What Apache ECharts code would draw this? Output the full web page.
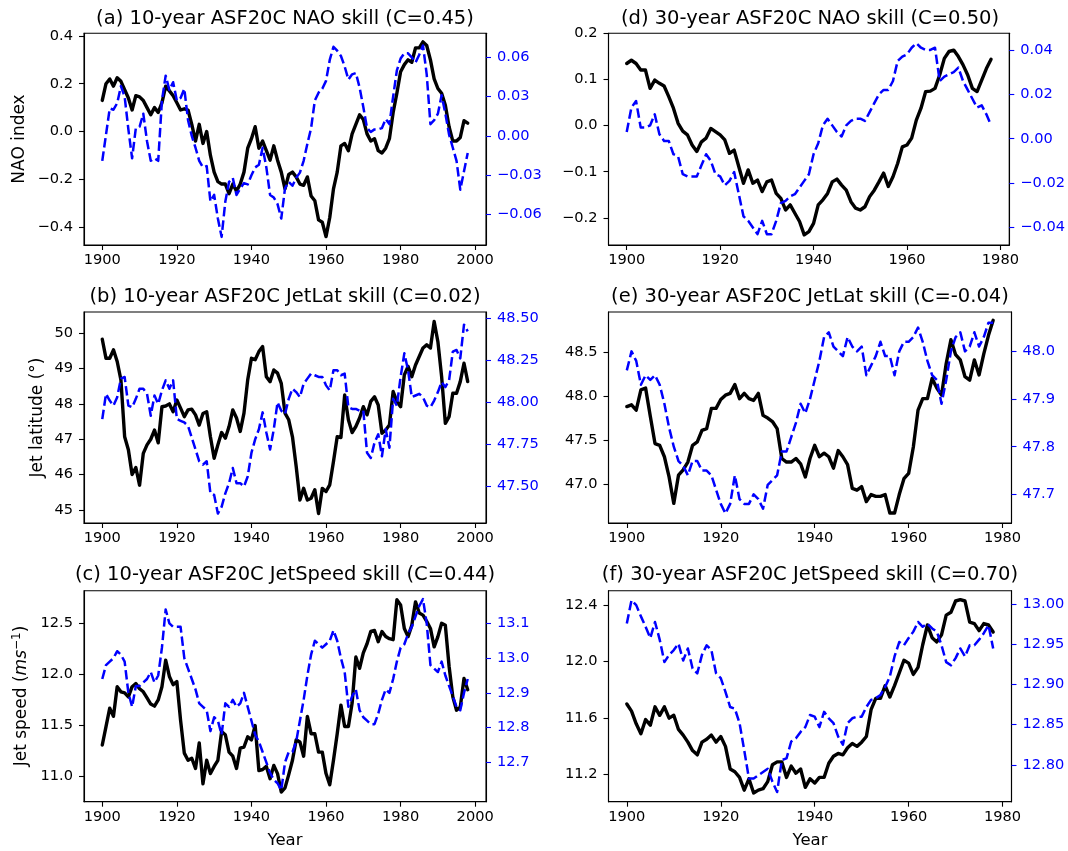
<!DOCTYPE html>
<html><head><meta charset="utf-8">
<script src="https://cdn.jsdelivr.net/npm/echarts@6/dist/echarts.min.js"></script>
<style>html,body{margin:0;padding:0;background:#fff}#c{width:1068px;height:851px}</style>
</head><body><div id="c"></div><script>
// ---------------- data ----------------
const YEARS_10 = Array.from({length: 99}, (_, i) => 1900 + i);   // 1900..1998
const YEARS_30 = Array.from({length: 79}, (_, i) => 1900 + i);   // 1900..1978
const X_TICKS_10 = [1900, 1920, 1940, 1960, 1980, 2000];
const X_TICKS_30 = [1900, 1920, 1940, 1960, 1980];

const TITLES = [
  '(a) 10-year ASF20C NAO skill (C=0.45)',
  '(b) 10-year ASF20C JetLat skill (C=0.02)',
  '(c) 10-year ASF20C JetSpeed skill (C=0.44)',
  '(d) 30-year ASF20C NAO skill (C=0.50)',
  '(e) 30-year ASF20C JetLat skill (C=-0.04)',
  '(f) 30-year ASF20C JetSpeed skill (C=0.70)'
];

// (a) 10-year NAO
const nao10Black = [
  0.13,0.20,0.22,0.19,0.225,0.21,0.175,0.14,0.09,0.15,
  0.145,0.13,0.10,0.07,0.10,0.08,0.12,0.19,0.17,0.15,
  0.12,0.09,0.095,0.09,0.03,-0.04,0.03,-0.05,0.00,-0.10,
  -0.17,-0.21,-0.22,-0.22,-0.26,-0.22,-0.25,-0.22,-0.17,-0.07,
  -0.03,0.02,-0.07,-0.04,-0.08,-0.12,-0.06,-0.12,-0.17,-0.24,
  -0.18,-0.17,-0.19,-0.22,-0.225,-0.19,-0.27,-0.29,-0.37,-0.38,
  -0.44,-0.36,-0.24,-0.17,-0.06,-0.05,-0.08,-0.01,0.03,0.07,
  0.05,-0.01,-0.04,-0.03,-0.08,-0.09,-0.07,-0.03,0.08,0.16,
  0.25,0.28,0.30,0.29,0.35,0.35,0.375,0.36,0.30,0.22,
  0.18,0.16,0.11,0.02,-0.04,-0.04,-0.025,0.045,0.035
];
const nao10Blue = [
  -0.019,0.001,0.021,0.020,0.025,0.038,0.030,0.005,-0.017,0.006,
  0.007,0.017,-0.004,-0.019,-0.017,-0.019,0.027,0.046,0.035,0.041,
  0.027,0.029,0.036,0.012,0.000,-0.009,-0.019,-0.024,-0.023,-0.050,
  -0.045,-0.063,-0.077,-0.050,-0.035,-0.032,-0.045,-0.040,-0.036,-0.037,
  -0.030,-0.024,-0.022,-0.009,-0.024,-0.045,-0.047,-0.052,-0.063,-0.040,
  -0.035,-0.038,-0.032,-0.028,-0.019,-0.006,0.006,0.027,0.033,0.036,
  0.042,0.058,0.068,0.065,0.061,0.053,0.043,0.047,0.048,0.037,
  0.022,0.006,0.003,0.005,0.005,0.006,0.013,0.009,0.030,0.050,
  0.059,0.063,0.063,0.060,0.056,0.062,0.069,0.047,0.009,0.012,
  0.017,0.031,0.017,0.001,-0.009,-0.019,-0.041,-0.027,-0.013
];
const NAO10_LEFT_TICKS = [-0.4, -0.2, 0.0, 0.2, 0.4];
const NAO10_RIGHT_TICKS = [-0.06, -0.03, 0.0, 0.03, 0.06];

// (b) 10-year JetLat
const lat10Black = [
  49.83,49.29,49.29,49.53,49.2,48.68,47.07,46.7,46.0,46.2,
  45.7,46.6,46.84,47.0,47.26,46.9,47.92,47.94,48.0,47.78,
  48.11,47.88,47.64,47.83,47.85,47.69,47.4,47.73,47.78,47.07,
  46.46,46.84,47.19,47.03,47.36,47.83,47.6,47.22,47.74,48.68,
  49.29,49.25,49.48,49.62,48.77,48.63,48.96,48.87,48.58,47.74,
  47.55,47.07,46.23,45.28,45.61,45.28,45.33,45.57,44.9,45.61,
  45.52,45.71,46.37,47.07,47.05,48.25,47.55,47.19,47.36,47.6,
  47.92,47.69,48.07,48.2,47.97,47.17,47.26,47.4,48.35,48.07,
  47.92,48.82,49.06,48.77,49.1,49.34,49.58,49.67,49.58,50.33,
  49.76,48.77,47.45,47.64,48.3,48.3,48.63,49.15,48.63
];
const lat10Blue = [
  47.9,48.05,48.01,47.98,48.03,48.14,48.15,47.98,47.97,48.02,
  48.08,48.08,48.05,47.92,48.04,47.99,48.07,48.13,48.08,48.13,
  47.9,47.89,47.88,47.86,47.79,47.72,47.65,47.63,47.65,47.46,
  47.45,47.34,47.38,47.46,47.52,47.61,47.52,47.52,47.5,47.56,
  47.7,47.78,47.84,47.94,47.82,47.72,47.84,48.0,47.95,47.93,
  48.02,48.08,48.06,48.03,48.11,48.14,48.17,48.16,48.15,48.15,
  48.1,48.07,48.19,48.19,48.16,48.17,47.97,47.96,47.96,47.95,
  47.95,47.7,47.67,47.76,47.81,47.68,47.84,47.73,48.02,47.98,
  48.15,48.29,48.19,48.03,48.04,48.05,48.03,47.98,47.97,48.01,
  48.06,48.12,48.09,48.13,48.3,48.31,48.26,48.46,48.42
];
const LAT10_LEFT_TICKS = [45, 46, 47, 48, 49, 50];
const LAT10_RIGHT_TICKS = [47.5, 47.75, 48.0, 48.25, 48.5];

// (c) 10-year JetSpeed
const spd10Black = [
  11.31,11.49,11.67,11.59,11.88,11.83,11.82,11.78,11.88,11.91,
  11.86,11.83,11.77,11.71,11.69,11.75,11.88,12.14,11.98,11.9,
  11.93,11.55,11.23,11.16,11.18,11.08,11.33,10.93,11.16,11.03,
  11.1,11.16,11.44,11.41,11.24,11.2,11.08,11.28,11.29,11.39,
  11.36,11.5,11.06,11.07,11.1,10.98,11.11,11.03,10.85,10.89,
  11.02,11.16,11.36,11.34,11.2,11.59,11.42,11.42,11.24,11.24,
  11.03,10.92,11.16,11.42,11.7,11.49,11.49,11.72,12.17,12.06,
  12.21,12.3,12.42,12.43,12.32,12.42,12.37,12.35,12.34,12.73,
  12.68,12.45,12.37,12.48,12.71,12.6,12.58,12.52,12.45,12.27,
  12.37,12.5,12.48,12.08,11.78,11.65,11.68,11.96,11.85
];
const spd10Blue = [
  12.94,12.98,12.99,13.0,13.02,13.01,12.99,12.9,12.86,12.92,
  12.92,12.93,12.94,12.96,12.93,12.95,13.03,13.14,13.1,13.09,
  13.09,13.09,13.0,12.97,12.94,12.91,12.87,12.86,12.85,12.79,
  12.83,12.82,12.78,12.87,12.86,12.88,12.86,12.87,12.9,12.86,
  12.82,12.78,12.76,12.73,12.7,12.67,12.65,12.64,12.62,12.7,
  12.73,12.73,12.76,12.82,12.88,12.95,13.01,13.05,13.04,13.03,
  13.04,13.05,13.08,13.05,13.0,12.96,12.86,12.89,12.91,12.85,
  12.83,12.82,12.81,12.81,12.84,12.88,12.91,12.9,12.94,12.99,
  13.03,13.04,13.07,13.09,13.12,13.15,13.17,13.1,12.98,12.97,
  12.96,12.99,12.95,12.92,12.89,12.86,12.85,12.9,12.94
];
const SPD10_LEFT_TICKS = [11.0, 11.5, 12.0, 12.5];
const SPD10_RIGHT_TICKS = [12.7, 12.8, 12.9, 13.0, 13.1];

// (d) 30-year NAO
const nao30Black = [
  0.135,0.142,0.135,0.121,0.121,0.081,0.099,0.092,0.086,0.063,
  0.038,0.005,-0.012,-0.020,-0.042,-0.056,-0.035,-0.027,-0.006,-0.013,
  -0.020,-0.031,-0.060,-0.053,-0.089,-0.125,-0.096,-0.125,-0.118,-0.143,
  -0.122,-0.118,-0.147,-0.158,-0.183,-0.172,-0.190,-0.208,-0.237,-0.230,
  -0.212,-0.172,-0.161,-0.147,-0.122,-0.116,-0.129,-0.140,-0.165,-0.179,
  -0.183,-0.176,-0.154,-0.140,-0.122,-0.103,-0.132,-0.111,-0.082,-0.046,
  -0.042,-0.027,0.012,0.038,0.074,0.075,0.081,0.110,0.146,0.161,
  0.164,0.150,0.132,0.110,0.081,0.074,0.099,0.124,0.144
];
const nao30Blue = [
  0.003,0.014,0.017,0.005,0.005,0.006,0.011,0.002,-0.001,-0.001,
  -0.007,-0.008,-0.016,-0.017,-0.017,-0.017,-0.012,-0.007,-0.010,-0.016,
  -0.017,-0.021,-0.019,-0.015,-0.025,-0.035,-0.037,-0.040,-0.043,-0.037,
  -0.043,-0.043,-0.037,-0.029,-0.028,-0.026,-0.025,-0.022,-0.019,-0.016,
  -0.007,-0.002,0.006,0.009,0.006,0.003,0.001,0.006,0.008,0.009,
  0.009,0.008,0.012,0.016,0.020,0.022,0.022,0.026,0.035,0.037,
  0.038,0.041,0.043,0.041,0.040,0.040,0.041,0.026,0.028,0.029,
  0.030,0.032,0.026,0.022,0.018,0.014,0.015,0.011,0.006
];
const NAO30_LEFT_TICKS = [-0.2, -0.1, 0.0, 0.1, 0.2];
const NAO30_RIGHT_TICKS = [-0.04, -0.02, 0.0, 0.02, 0.04];

// (e) 30-year JetLat
const lat30Black = [
  47.88,47.9,47.84,48.07,48.09,47.77,47.46,47.44,47.31,47.08,
  46.78,47.1,47.16,47.25,47.44,47.48,47.61,47.63,47.86,47.86,
  47.96,48.01,48.03,48.13,47.97,48.03,47.97,47.95,48.03,47.78,
  47.75,47.71,47.63,47.29,47.25,47.25,47.29,47.23,47.08,47.29,
  47.44,47.31,47.35,47.31,47.18,47.38,47.31,47.22,46.95,46.93,
  46.97,46.8,46.88,46.86,46.86,46.88,46.67,46.67,46.88,47.06,
  47.12,47.42,47.84,47.97,47.97,48.2,48.09,48.01,48.37,48.64,
  48.47,48.41,48.22,48.18,48.41,48.24,48.48,48.69,48.86
];
const lat30Blue = [
  47.96,48.0,47.98,47.93,47.95,47.94,47.95,47.93,47.89,47.84,
  47.8,47.77,47.76,47.74,47.77,47.77,47.75,47.75,47.74,47.71,
  47.68,47.66,47.68,47.74,47.69,47.68,47.68,47.7,47.69,47.67,
  47.72,47.73,47.74,47.79,47.79,47.82,47.85,47.89,47.87,47.9,
  47.94,47.98,48.03,48.04,48.01,48.0,47.99,48.03,48.01,48.0,
  48.01,47.95,47.97,47.99,48.02,47.99,47.99,47.95,48.0,48.02,
  48.02,48.03,48.05,48.02,47.98,47.95,47.94,47.89,47.94,48.0,
  48.03,48.04,48.0,48.01,48.04,48.01,48.03,48.06,48.06
];
const LAT30_LEFT_TICKS = [47.0, 47.5, 48.0, 48.5];
const LAT30_RIGHT_TICKS = [47.7, 47.8, 47.9, 48.0];

// (f) 30-year JetSpeed
const spd30Black = [
  11.7,11.65,11.56,11.49,11.59,11.55,11.68,11.62,11.68,11.6,
  11.62,11.52,11.48,11.43,11.37,11.34,11.43,11.45,11.48,11.43,
  11.47,11.4,11.24,11.22,11.18,11.09,11.17,11.07,11.09,11.1,
  11.15,11.27,11.29,11.29,11.18,11.26,11.21,11.24,11.11,11.17,
  11.14,11.18,11.18,11.28,11.33,11.35,11.34,11.39,11.42,11.4,
  11.43,11.47,11.66,11.74,11.74,11.83,11.75,11.83,11.92,12.01,
  11.99,11.91,11.96,12.12,12.26,12.17,12.14,12.19,12.33,12.35,
  12.43,12.44,12.43,12.28,12.27,12.22,12.27,12.26,12.21
];
const spd30Blue = [
  12.976,13.005,12.999,12.985,12.972,12.958,12.978,12.956,12.928,12.937,
  12.943,12.951,12.93,12.945,12.92,12.914,12.937,12.949,12.943,12.914,
  12.908,12.891,12.872,12.87,12.852,12.818,12.783,12.783,12.787,12.791,
  12.795,12.779,12.766,12.806,12.808,12.829,12.833,12.841,12.847,12.862,
  12.86,12.847,12.866,12.858,12.852,12.835,12.825,12.852,12.858,12.86,
  12.86,12.872,12.881,12.883,12.887,12.897,12.91,12.935,12.953,12.949,
  12.958,12.966,12.978,12.972,12.976,12.97,12.966,12.949,12.928,12.924,
  12.933,12.945,12.935,12.949,12.949,12.956,12.964,12.974,12.945
];
const SPD30_LEFT_TICKS = [11.2, 11.6, 12.0, 12.4];
const SPD30_RIGHT_TICKS = [12.80, 12.85, 12.90, 12.95, 13.00];

// ---------------- layout / style ----------------
const FONT = 'DejaVu Sans';
const TICK_FS = 14.6, TITLE_FS = 19.5, YNAME_FS = 17, XNAME_FS = 16.5;
const BLUE = '#0000ff';
const COL_L = [84, 608.5];
const COL_W = [402, 403];
const ROW_T = [33.3, 312, 590.7];
const ROW_H = [211.7, 211, 211];

const panels = [
  {col:0,row:0,title:TITLES[0],years:YEARS_10,xt:X_TICKS_10,xr:[1895.1,2002.9],black:nao10Black,blue:nao10Blue,
   lr:[-0.475,0.411],lt:NAO10_LEFT_TICKS,ld:1,rr:[-0.0832,0.0783],rt:NAO10_RIGHT_TICKS,rd:2},
  {col:0,row:1,title:TITLES[1],years:YEARS_10,xt:X_TICKS_10,xr:[1895.1,2002.9],black:lat10Black,blue:lat10Blue,
   lr:[44.63,50.6],lt:LAT10_LEFT_TICKS,ld:0,rr:[47.284,48.535],rt:LAT10_RIGHT_TICKS,rd:2},
  {col:0,row:2,title:TITLES[2],years:YEARS_10,xt:X_TICKS_10,xr:[1895.1,2002.9],black:spd10Black,blue:spd10Blue,
   lr:[10.755,12.819],lt:SPD10_LEFT_TICKS,ld:1,rr:[12.587,13.194],rt:SPD10_RIGHT_TICKS,rd:1},
  {col:1,row:0,title:TITLES[3],years:YEARS_30,xt:X_TICKS_30,xr:[1896.1,1981.9],black:nao30Black,blue:nao30Blue,
   lr:[-0.259,0.2005],lt:NAO30_LEFT_TICKS,ld:1,rr:[-0.0479,0.0475],rt:NAO30_RIGHT_TICKS,rd:2},
  {col:1,row:1,title:TITLES[4],years:YEARS_30,xt:X_TICKS_30,xr:[1896.1,1981.9],black:lat30Black,blue:lat30Blue,
   lr:[46.557,48.955],lt:LAT30_LEFT_TICKS,ld:1,rr:[47.64,48.0825],rt:LAT30_RIGHT_TICKS,rd:1},
  {col:1,row:2,title:TITLES[5],years:YEARS_30,xt:X_TICKS_30,xr:[1896.1,1981.9],black:spd30Black,blue:spd30Blue,
   lr:[11.008,12.503],lt:SPD30_LEFT_TICKS,ld:1,rr:[12.754,13.017],rt:SPD30_RIGHT_TICKS,rd:2}
];

function fmt(d) {
  return function (v) {
    const s = Math.abs(v).toFixed(d);
    return (v < 0 && Math.abs(v) > 1e-12) ? '\u2212' + s : s;
  };
}

const grid = [], xAxis = [], yAxis = [], series = [], graphic = [];
panels.forEach((p, i) => {
  const left = COL_L[p.col], top = ROW_T[p.row], w = COL_W[p.col], h = ROW_H[p.row];
  grid.push({left: left, top: top, width: w, height: h, show: true, borderColor: '#000', borderWidth: 1.1, backgroundColor: 'transparent', containLabel: false});
  xAxis.push({
    type: 'value', gridIndex: i, min: p.xr[0], max: p.xr[1],
    axisLine: {show: true, onZero: false, lineStyle: {color: '#000', width: 1.1}},
    axisTick: {show: true, length: 5, customValues: p.xt, lineStyle: {color: '#000', width: 1.1}},
    axisLabel: {customValues: p.xt, margin: 8, color: '#000', fontSize: TICK_FS, fontFamily: FONT, formatter: v => String(Math.round(v))},
    splitLine: {show: false}
  });
  yAxis.push({
    type: 'value', gridIndex: i, position: 'left', min: p.lr[0], max: p.lr[1],
    axisLine: {show: true, onZero: false, lineStyle: {color: '#000', width: 1.1}},
    axisTick: {show: true, length: 5, customValues: p.lt, lineStyle: {color: '#000', width: 1.1}},
    axisLabel: {customValues: p.lt, margin: 11, color: '#000', fontSize: TICK_FS, fontFamily: FONT, formatter: fmt(p.ld)},
    splitLine: {show: false}
  });
  yAxis.push({
    type: 'value', gridIndex: i, position: 'right', min: p.rr[0], max: p.rr[1],
    axisLine: {show: true, onZero: false, lineStyle: {color: '#000', width: 1.1}},
    axisTick: {show: true, length: 5, customValues: p.rt, lineStyle: {color: BLUE, width: 1.1}},
    axisLabel: {customValues: p.rt, margin: 11, color: BLUE, fontSize: TICK_FS, fontFamily: FONT, formatter: fmt(p.rd)},
    splitLine: {show: false}
  });
  series.push({
    type: 'line', xAxisIndex: i, yAxisIndex: 2 * i, symbol: 'none', silent: true, z: 2,
    data: p.years.map((y, k) => [y, p.black[k]]),
    lineStyle: {color: '#000', width: 3.4, cap: 'round', join: 'round'}
  });
  series.push({
    type: 'line', xAxisIndex: i, yAxisIndex: 2 * i + 1, symbol: 'none', silent: true, z: 3,
    data: p.years.map((y, k) => [y, p.blue[k]]),
    lineStyle: {color: BLUE, width: 2.5, type: [9.5, 4], join: 'round'}
  });
  graphic.push({
    type: 'text', x: left + w / 2, y: [19.3, 296.7, 574.5][p.row], silent: true,
    style: {text: p.title, fill: '#000', fontSize: TITLE_FS, fontFamily: FONT, align: 'center', verticalAlign: 'middle'}
  });
});

// axis names
const richStyles = {
  n: {fontSize: YNAME_FS, fontFamily: FONT, fill: '#000', lineHeight: 22},
  i: {fontSize: YNAME_FS, fontFamily: FONT, fontStyle: 'italic', fill: '#000', lineHeight: 22},
  s: {fontSize: 12, fontFamily: FONT, fill: '#000', verticalAlign: 'top', lineHeight: 14}
};
const yNames = [
  {text: '{n|NAO index}', x: 20, y: 139},
  {text: '{n|Jet latitude (°)}', x: 38, y: 417.5},
  {text: '{n|Jet speed (}{i|ms}{s|\u22121}{n|)}', x: 22, y: 696}
];
yNames.forEach(n => {
  graphic.push({
    type: 'text', x: n.x, y: n.y, rotation: Math.PI / 2, silent: true,
    style: {text: n.text, fill: '#000', fontSize: YNAME_FS, fontFamily: FONT, align: 'center', verticalAlign: 'middle', rich: richStyles}
  });
});
[285, 810].forEach(x => {
  graphic.push({type: 'text', x: x, y: 841, silent: true,
    style: {text: 'Year', fill: '#000', fontSize: XNAME_FS, fontFamily: FONT, align: 'center', verticalAlign: 'middle'}});
});

const chart = echarts.init(document.getElementById('c'), null, {renderer: 'canvas'});
chart.setOption({
  animation: false,
  backgroundColor: '#fff',
  grid: grid, xAxis: xAxis, yAxis: yAxis, series: series, graphic: graphic
});
</script></body></html>
